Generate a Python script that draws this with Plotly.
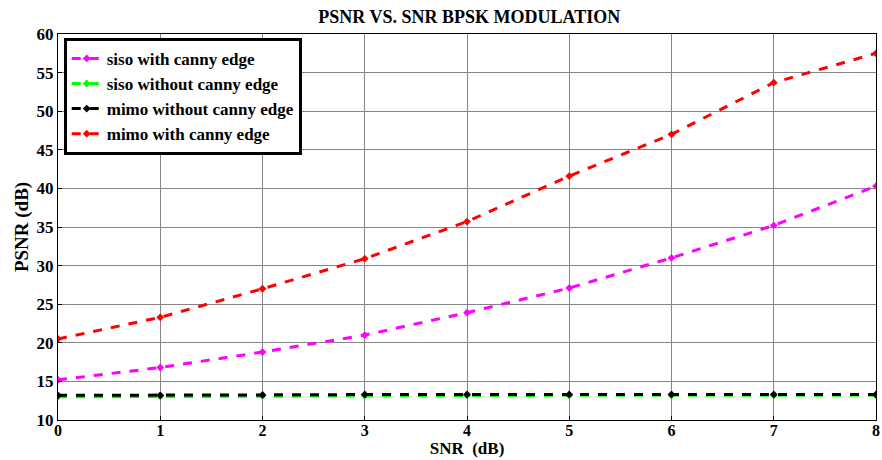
import plotly.graph_objects as go

snr = [0, 1, 2, 3, 4, 5, 6, 7, 8]
siso_canny = [15.2, 16.8, 18.8, 21.0, 23.9, 27.1, 31.0, 35.2, 40.3]
siso_no_canny = [13.0, 13.05, 13.1, 13.15, 13.2, 13.2, 13.2, 13.2, 13.2]
mimo_no_canny = [13.2, 13.2, 13.25, 13.3, 13.3, 13.3, 13.3, 13.3, 13.3]
mimo_canny = [20.5, 23.3, 27.0, 30.9, 35.7, 41.6, 47.0, 53.7, 57.5]

x_ticks = [0, 1, 2, 3, 4, 5, 6, 7, 8]
y_ticks = [10, 15, 20, 25, 30, 35, 40, 45, 50, 55, 60]

series = [
    ("siso with canny edge", siso_canny, "#ff00ff"),
    ("siso without canny edge", siso_no_canny, "#00ff00"),
    ("mimo without canny edge", mimo_no_canny, "#000000"),
    ("mimo with canny edge", mimo_canny, "#ff0000"),
]

FONT = "Liberation Serif"
fig = go.Figure()
for name, ys, col in series:
    fig.add_trace(go.Scatter(
        x=snr, y=ys, name="<b>" + name + "</b>", mode="lines+markers",
        line=dict(color=col, width=3, dash="dash"),
        marker=dict(color=col, size=6, symbol="diamond"),
    ))

axis_common = dict(
    showgrid=True, gridcolor="#858585", gridwidth=1,
    showline=True, linecolor="black", linewidth=1, mirror=True,
    ticks="inside", ticklen=4, tickcolor="black",
    zeroline=False, ticklabeloverflow="allow",
    tickfont=dict(family=FONT, size=17, color="black"),
)

fig.update_layout(
    width=882, height=460,
    margin=dict(l=58, r=2, t=34, b=40),
    paper_bgcolor="white", plot_bgcolor="white",
    title=dict(text="<b>PSNR VS. SNR BPSK MODULATION</b>", x=0.532, xanchor="center",
               y=0.963, yanchor="middle",
               font=dict(family=FONT, size=18, color="black")),
    xaxis=dict(range=[0, 8], tickvals=x_ticks,
               ticktext=["<b>%d</b>" % v for v in x_ticks],
               ticklabelstandoff=-4,
               tickfont=dict(family=FONT, size=16, color="black"),
               title=dict(text="<b>SNR  (dB)</b>", standoff=0,
                          font=dict(family=FONT, size=17, color="black")),
               **{k: v for k, v in axis_common.items() if k != "tickfont"}),
    yaxis=dict(range=[10, 60], tickvals=y_ticks,
               ticktext=["<b>%d</b>" % v for v in y_ticks],
               title=dict(text="<b>PSNR (dB)</b>", standoff=2,
                          font=dict(family=FONT, size=19, color="black")),
               **axis_common),
    legend=dict(x=0.007, y=0.99, xanchor="left", yanchor="top",
                bgcolor="white", bordercolor="black", borderwidth=3,
                font=dict(family=FONT, size=17, color="black"),
                tracegroupgap=0, itemwidth=30),
    showlegend=True,
)

fig.write_html("out.html")
